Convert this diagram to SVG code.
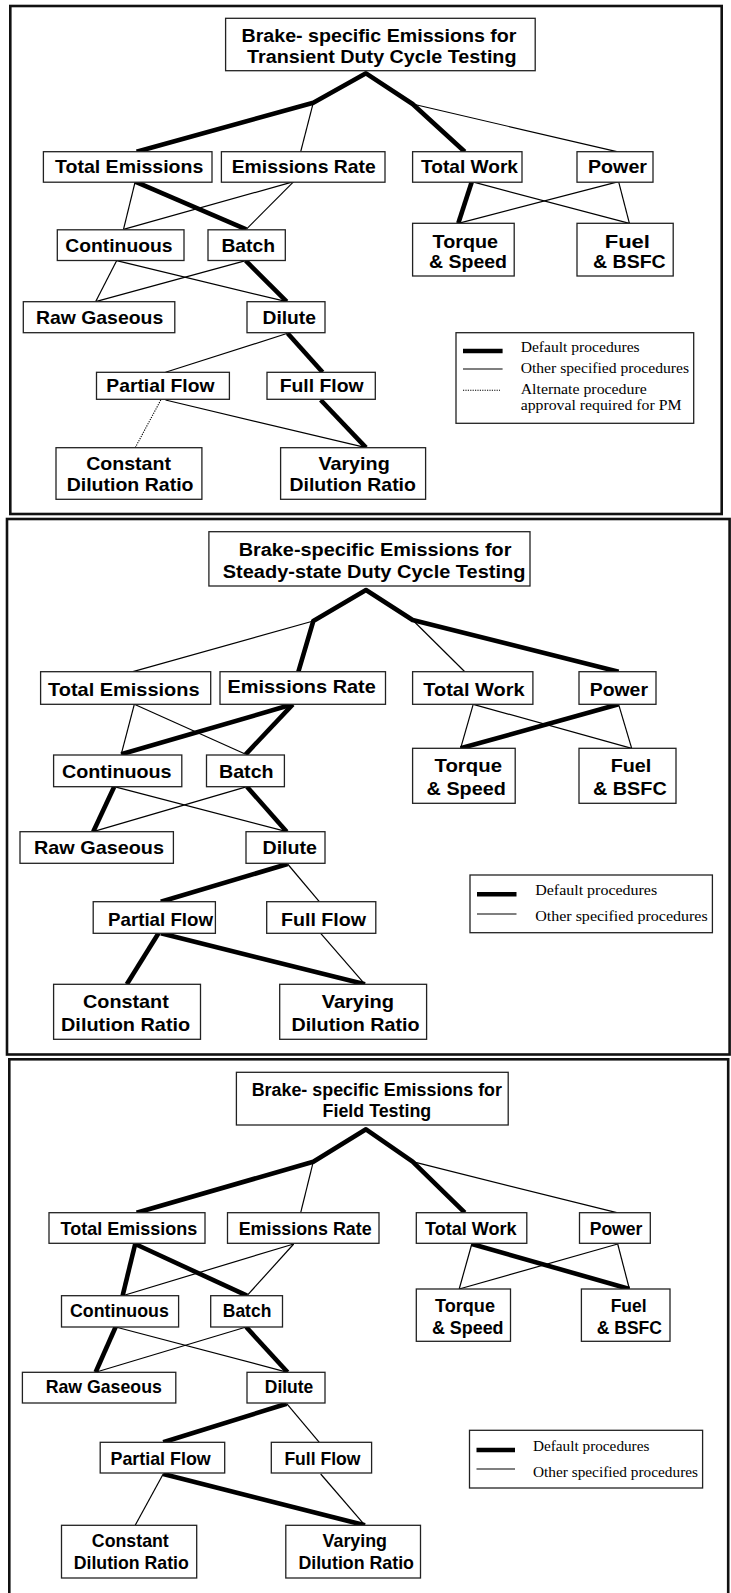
<svg xmlns="http://www.w3.org/2000/svg" width="731" height="1593" viewBox="0 0 731 1593">
<style>
.bg{fill:#fff}
.frame{fill:none;stroke:#111;stroke-width:2.6}
.box{fill:#fff;stroke:#222;stroke-width:1.3}
.t{font-family:"Liberation Sans",Arial,sans-serif;font-weight:bold;font-size:18.5px;fill:#000}
.tt{font-family:"Liberation Sans",Arial,sans-serif;font-weight:bold;font-size:17.5px;fill:#000}
.leg{font-family:"Liberation Serif","Times New Roman",serif;font-size:15px;fill:#000}
.thick{fill:none;stroke:#000;stroke-width:4.6;stroke-linejoin:round;stroke-linecap:butt}
.thin{fill:none;stroke:#000;stroke-width:1.2}
.dot{fill:none;stroke:#000;stroke-width:1.1;stroke-dasharray:1.2 1.2}
</style>
<rect class="bg" x="0" y="0" width="731" height="1593"/>

<!-- ================= PANEL 1 ================= -->
<g id="panel1">
<rect class="frame" x="10.3" y="6" width="711.4" height="508"/>
<g id="p1-connectors">
<polyline class="thick" points="136.6,151.7 313.3,102.7 366,73.3 412.6,104 464.8,151.7"/>
<line class="thin" x1="313.3" y1="102.7" x2="300.7" y2="151.7"/>
<line class="thin" x1="412.6" y1="104" x2="616.8" y2="151.7"/>
<line class="thin" x1="135.2" y1="181.7" x2="123.5" y2="229.3"/>
<line class="thick" x1="135.2" y1="181.7" x2="246.2" y2="229.3"/>
<line class="thin" x1="293.7" y1="181.7" x2="123.5" y2="229.3"/>
<line class="thin" x1="293.7" y1="181.7" x2="246.2" y2="229.3"/>
<line class="thick" x1="471.8" y1="181.7" x2="458.3" y2="223.3"/>
<line class="thin" x1="471.8" y1="181.7" x2="629.4" y2="223.3"/>
<line class="thin" x1="618.6" y1="181.7" x2="458.3" y2="223.3"/>
<line class="thin" x1="618.6" y1="181.7" x2="629.4" y2="223.3"/>
<line class="thin" x1="116.6" y1="260.7" x2="95.6" y2="301.7"/>
<line class="thin" x1="116.6" y1="260.7" x2="286.7" y2="301.7"/>
<line class="thin" x1="245.7" y1="260.7" x2="95.6" y2="301.7"/>
<line class="thick" x1="245.7" y1="260.7" x2="286.7" y2="301.7"/>
<line class="thin" x1="287.6" y1="333.3" x2="165.5" y2="372.3"/>
<line class="thick" x1="287.6" y1="333.3" x2="322.6" y2="372.3"/>
<line class="dot" x1="160.8" y1="400" x2="135.2" y2="447.7"/>
<line class="thin" x1="165.5" y1="400" x2="366" y2="447.7"/>
<line class="thick" x1="320.7" y1="400" x2="366" y2="447.7"/>
</g>
<g id="p1-title"><rect class="box" x="225.6" y="18.3" width="309.6" height="52.4"/>
<text class="tt" x="241.5" y="41.7" textLength="275" lengthAdjust="spacingAndGlyphs">Brake- specific Emissions for</text>
<text class="tt" x="247" y="62.7" textLength="269.5" lengthAdjust="spacingAndGlyphs">Transient Duty Cycle Testing</text></g>
<g id="p1-total-emissions"><rect class="box" x="43.4" y="151.7" width="168.6" height="30.5"/>
<text class="t" x="55" y="172.6" textLength="148.3" lengthAdjust="spacingAndGlyphs">Total Emissions</text></g>
<g id="p1-emissions-rate"><rect class="box" x="221.4" y="151.7" width="163.6" height="30.5"/>
<text class="t" x="231.7" y="172.6" textLength="144" lengthAdjust="spacingAndGlyphs">Emissions Rate</text></g>
<g id="p1-total-work"><rect class="box" x="412.6" y="151.7" width="109.4" height="30.5"/>
<text class="t" x="421" y="173" textLength="97" lengthAdjust="spacingAndGlyphs">Total Work</text></g>
<g id="p1-power"><rect class="box" x="577" y="151.7" width="76" height="30.5"/>
<text class="t" x="588" y="173" textLength="59" lengthAdjust="spacingAndGlyphs">Power</text></g>
<g id="p1-continuous"><rect class="box" x="57.3" y="229.8" width="126.7" height="30.7"/>
<text class="t" x="65.3" y="251.6" textLength="107.2" lengthAdjust="spacingAndGlyphs">Continuous</text></g>
<g id="p1-batch"><rect class="box" x="208" y="229.8" width="77.3" height="30.7"/>
<text class="t" x="221.4" y="251.6" textLength="53.6" lengthAdjust="spacingAndGlyphs">Batch</text></g>
<g id="p1-torque"><rect class="box" x="412.6" y="223.3" width="101.6" height="52.7"/>
<text class="t" x="432.6" y="248.3" textLength="65.4" lengthAdjust="spacingAndGlyphs">Torque</text>
<text class="t" x="429" y="268.3" textLength="78" lengthAdjust="spacingAndGlyphs">&amp; Speed</text></g>
<g id="p1-fuel"><rect class="box" x="577" y="223.3" width="96.2" height="52.7"/>
<text class="t" x="604.7" y="248.3" textLength="45.3" lengthAdjust="spacingAndGlyphs">Fuel</text>
<text class="t" x="593" y="268.3" textLength="72.7" lengthAdjust="spacingAndGlyphs">&amp; BSFC</text></g>
<g id="p1-raw-gaseous"><rect class="box" x="23.3" y="301.7" width="151.5" height="31"/>
<text class="t" x="35.9" y="323.7" textLength="127.3" lengthAdjust="spacingAndGlyphs">Raw Gaseous</text></g>
<g id="p1-dilute"><rect class="box" x="247" y="301.7" width="78" height="31"/>
<text class="t" x="262.5" y="323.7" textLength="53.5" lengthAdjust="spacingAndGlyphs">Dilute</text></g>
<g id="p1-partial-flow"><rect class="box" x="96.5" y="372.3" width="132.9" height="27"/>
<text class="t" x="106.3" y="392.3" textLength="108.2" lengthAdjust="spacingAndGlyphs">Partial Flow</text></g>
<g id="p1-full-flow"><rect class="box" x="267" y="372.3" width="108.3" height="27"/>
<text class="t" x="279.7" y="392.3" textLength="83.9" lengthAdjust="spacingAndGlyphs">Full Flow</text></g>
<g id="p1-constant"><rect class="box" x="56" y="447.7" width="145.9" height="51.6"/>
<text class="t" x="86.2" y="470" textLength="84.8" lengthAdjust="spacingAndGlyphs">Constant</text>
<text class="t" x="66.7" y="490.7" textLength="126.8" lengthAdjust="spacingAndGlyphs">Dilution Ratio</text></g>
<g id="p1-varying"><rect class="box" x="280.6" y="447.7" width="145" height="51.6"/>
<text class="t" x="318.4" y="470" textLength="71.3" lengthAdjust="spacingAndGlyphs">Varying</text>
<text class="t" x="289.5" y="490.7" textLength="126.4" lengthAdjust="spacingAndGlyphs">Dilution Ratio</text></g>
<g id="p1-legend"><rect class="box" x="456" y="332.7" width="237.7" height="90.6"/>
<line class="thick" x1="463" y1="351" x2="502.6" y2="351"/>
<line class="thin" x1="463" y1="369" x2="502.6" y2="369"/>
<line class="dot" x1="463" y1="390.3" x2="500" y2="390.3"/>
<text class="leg" x="520.7" y="352" textLength="119" lengthAdjust="spacingAndGlyphs">Default procedures</text>
<text class="leg" x="520.7" y="373" textLength="168.3" lengthAdjust="spacingAndGlyphs">Other specified procedures</text>
<text class="leg" x="520.7" y="393.5" textLength="126" lengthAdjust="spacingAndGlyphs">Alternate procedure</text>
<text class="leg" x="520.7" y="410" textLength="160.8" lengthAdjust="spacingAndGlyphs">approval required for PM</text></g>
</g>

<!-- ================= PANEL 2 ================= -->
<g id="panel2">
<rect class="frame" x="7" y="519" width="722.6" height="535.5"/>
<g id="p2-connectors">
<polyline class="thick" points="298.4,671.7 313.3,621 366,590 412.6,620 618.6,671.7"/>
<line class="thin" x1="313.3" y1="621" x2="132.9" y2="671.7"/>
<line class="thin" x1="412.6" y1="620" x2="464.8" y2="671.7"/>
<line class="thin" x1="134.3" y1="704.3" x2="121.2" y2="754.3"/>
<line class="thin" x1="134.3" y1="704.3" x2="245.7" y2="754.3"/>
<line class="thick" x1="292.8" y1="704.3" x2="121.2" y2="754.3"/>
<line class="thick" x1="292.8" y1="704.3" x2="245.7" y2="754.3"/>
<line class="thin" x1="473.2" y1="704.3" x2="460.6" y2="748.3"/>
<line class="thin" x1="473.2" y1="704.3" x2="631.7" y2="748.3"/>
<line class="thick" x1="618.6" y1="704.3" x2="460.6" y2="748.3"/>
<line class="thin" x1="618.6" y1="704.3" x2="631.7" y2="748.3"/>
<line class="thick" x1="114.2" y1="786.7" x2="93.2" y2="831.7"/>
<line class="thin" x1="114.2" y1="786.7" x2="286.7" y2="831.7"/>
<line class="thin" x1="247" y1="786.7" x2="93.2" y2="831.7"/>
<line class="thick" x1="247" y1="786.7" x2="286.7" y2="831.7"/>
<line class="thick" x1="287.6" y1="864" x2="160.8" y2="901.7"/>
<line class="thin" x1="287.6" y1="864" x2="319.3" y2="901.7"/>
<line class="thick" x1="158.5" y1="933.3" x2="126.8" y2="984.3"/>
<line class="thick" x1="160.8" y1="933.3" x2="365" y2="984.3"/>
<line class="thin" x1="320.7" y1="933.3" x2="365" y2="984.3"/>
</g>
<g id="p2-title"><rect class="box" x="208.9" y="531.7" width="321.1" height="54.3"/>
<text class="tt" x="238.7" y="555.7" textLength="272.7" lengthAdjust="spacingAndGlyphs">Brake-specific Emissions for</text>
<text class="tt" x="222.8" y="577.7" textLength="302.6" lengthAdjust="spacingAndGlyphs">Steady-state Duty Cycle Testing</text></g>
<g id="p2-total-emissions"><rect class="box" x="40.6" y="671.7" width="170.1" height="32.6"/>
<text class="t" x="48" y="696" textLength="151.5" lengthAdjust="spacingAndGlyphs">Total Emissions</text></g>
<g id="p2-emissions-rate"><rect class="box" x="220" y="671.7" width="165.5" height="32.6"/>
<text class="t" x="227.5" y="692.7" textLength="148.3" lengthAdjust="spacingAndGlyphs">Emissions Rate</text></g>
<g id="p2-total-work"><rect class="box" x="412.6" y="671.7" width="120.3" height="32.6"/>
<text class="t" x="423.3" y="696" textLength="101.2" lengthAdjust="spacingAndGlyphs">Total Work</text></g>
<g id="p2-power"><rect class="box" x="579" y="671.7" width="77" height="32.6"/>
<text class="t" x="589.7" y="696" textLength="58.3" lengthAdjust="spacingAndGlyphs">Power</text></g>
<g id="p2-continuous"><rect class="box" x="53.6" y="755" width="128.2" height="31.7"/>
<text class="t" x="62" y="777.7" textLength="109.6" lengthAdjust="spacingAndGlyphs">Continuous</text></g>
<g id="p2-batch"><rect class="box" x="206.5" y="755" width="77.9" height="31.7"/>
<text class="t" x="219" y="777.7" textLength="54.6" lengthAdjust="spacingAndGlyphs">Batch</text></g>
<g id="p2-torque"><rect class="box" x="412.6" y="748.3" width="102.6" height="55"/>
<text class="t" x="434.5" y="771.7" textLength="67.5" lengthAdjust="spacingAndGlyphs">Torque</text>
<text class="t" x="426.6" y="795" textLength="79.2" lengthAdjust="spacingAndGlyphs">&amp; Speed</text></g>
<g id="p2-fuel"><rect class="box" x="579" y="748.3" width="97" height="55"/>
<text class="t" x="610.7" y="771.7" textLength="40.6" lengthAdjust="spacingAndGlyphs">Fuel</text>
<text class="t" x="593" y="795" textLength="73.7" lengthAdjust="spacingAndGlyphs">&amp; BSFC</text></g>
<g id="p2-raw-gaseous"><rect class="box" x="20" y="831.7" width="153.4" height="31.6"/>
<text class="t" x="34" y="854" textLength="130" lengthAdjust="spacingAndGlyphs">Raw Gaseous</text></g>
<g id="p2-dilute"><rect class="box" x="246" y="831.7" width="79" height="31.6"/>
<text class="t" x="262.5" y="854" textLength="54.5" lengthAdjust="spacingAndGlyphs">Dilute</text></g>
<g id="p2-partial-flow"><rect class="box" x="93.2" y="901.7" width="122.2" height="31.6"/>
<text class="t" x="108" y="925.7" textLength="105" lengthAdjust="spacingAndGlyphs">Partial Flow</text></g>
<g id="p2-full-flow"><rect class="box" x="266.7" y="901.7" width="109.1" height="31.6"/>
<text class="t" x="281" y="925.7" textLength="85" lengthAdjust="spacingAndGlyphs">Full Flow</text></g>
<g id="p2-constant"><rect class="box" x="53.6" y="984.3" width="146.9" height="55"/>
<text class="t" x="83" y="1008.3" textLength="85.8" lengthAdjust="spacingAndGlyphs">Constant</text>
<text class="t" x="61" y="1030.7" textLength="129.2" lengthAdjust="spacingAndGlyphs">Dilution Ratio</text></g>
<g id="p2-varying"><rect class="box" x="279.7" y="984.3" width="146.9" height="55"/>
<text class="t" x="321.7" y="1008.3" textLength="72.3" lengthAdjust="spacingAndGlyphs">Varying</text>
<text class="t" x="291.4" y="1030.7" textLength="128.2" lengthAdjust="spacingAndGlyphs">Dilution Ratio</text></g>
<g id="p2-legend"><rect class="box" x="470" y="875" width="242.4" height="57.7"/>
<line class="thick" x1="477" y1="894.3" x2="516.5" y2="894.3"/>
<line class="thin" x1="477" y1="914" x2="516.5" y2="914"/>
<text class="leg" x="535.2" y="895" textLength="122" lengthAdjust="spacingAndGlyphs">Default procedures</text>
<text class="leg" x="535.2" y="921" textLength="172.5" lengthAdjust="spacingAndGlyphs">Other specified procedures</text></g>
</g>

<!-- ================= PANEL 3 ================= -->
<g id="panel3">
<rect class="frame" x="9.3" y="1059.3" width="718.9" height="545"/>
<g id="p3-connectors">
<polyline class="thick" points="136.6,1212.7 313.3,1161.7 366,1129.3 412.6,1161.7 464.8,1212.7"/>
<line class="thin" x1="313.3" y1="1161.7" x2="300.7" y2="1212.7"/>
<line class="thin" x1="412.6" y1="1161.7" x2="616.8" y2="1212.7"/>
<line class="thick" x1="135.2" y1="1244" x2="122.6" y2="1295.7"/>
<line class="thick" x1="135.2" y1="1244" x2="247" y2="1295.7"/>
<line class="thin" x1="293.7" y1="1244" x2="122.6" y2="1295.7"/>
<line class="thin" x1="293.7" y1="1244" x2="247" y2="1295.7"/>
<line class="thin" x1="471.8" y1="1244" x2="459.2" y2="1289"/>
<line class="thick" x1="471.8" y1="1244" x2="629.4" y2="1289"/>
<line class="thin" x1="617.7" y1="1244" x2="459.2" y2="1289"/>
<line class="thin" x1="617.7" y1="1244" x2="629.4" y2="1289"/>
<line class="thick" x1="115.6" y1="1327" x2="95.6" y2="1372.3"/>
<line class="thin" x1="115.6" y1="1327" x2="287.6" y2="1372.3"/>
<line class="thin" x1="246.2" y1="1327" x2="95.6" y2="1372.3"/>
<line class="thick" x1="246.2" y1="1327" x2="287.6" y2="1372.3"/>
<line class="thick" x1="286.7" y1="1403.7" x2="163.2" y2="1442.3"/>
<line class="thin" x1="286.7" y1="1403.7" x2="319.3" y2="1442.3"/>
<line class="thin" x1="163.2" y1="1474" x2="135.2" y2="1525.3"/>
<line class="thick" x1="163.2" y1="1474" x2="365" y2="1525.3"/>
<line class="thin" x1="320.7" y1="1474" x2="365" y2="1525.3"/>
</g>
<g id="p3-title"><rect class="box" x="236.4" y="1072.3" width="271.8" height="52.7"/>
<text class="tt" x="251.7" y="1096" textLength="250.3" lengthAdjust="spacingAndGlyphs">Brake- specific Emissions for</text>
<text class="tt" x="322.6" y="1117.3" textLength="108.6" lengthAdjust="spacingAndGlyphs">Field Testing</text></g>
<g id="p3-total-emissions"><rect class="box" x="49" y="1212.7" width="156" height="30.6"/>
<text class="t" x="60.6" y="1235" textLength="136.6" lengthAdjust="spacingAndGlyphs">Total Emissions</text></g>
<g id="p3-emissions-rate"><rect class="box" x="227.5" y="1212.7" width="151.5" height="30.6"/>
<text class="t" x="238.7" y="1235" textLength="132.9" lengthAdjust="spacingAndGlyphs">Emissions Rate</text></g>
<g id="p3-total-work"><rect class="box" x="416.3" y="1212.7" width="110.5" height="30.6"/>
<text class="t" x="425" y="1235" textLength="91.6" lengthAdjust="spacingAndGlyphs">Total Work</text></g>
<g id="p3-power"><rect class="box" x="579.5" y="1212.7" width="70.8" height="30.6"/>
<text class="t" x="589.7" y="1235" textLength="52.7" lengthAdjust="spacingAndGlyphs">Power</text></g>
<g id="p3-continuous"><rect class="box" x="61.5" y="1295.7" width="117.1" height="31.3"/>
<text class="t" x="70" y="1317.3" textLength="98.8" lengthAdjust="spacingAndGlyphs">Continuous</text></g>
<g id="p3-batch"><rect class="box" x="210.7" y="1295.7" width="71.8" height="31.3"/>
<text class="t" x="222.8" y="1317.3" textLength="48.5" lengthAdjust="spacingAndGlyphs">Batch</text></g>
<g id="p3-torque"><rect class="box" x="416.3" y="1289" width="94.2" height="52.3"/>
<text class="t" x="435" y="1311.7" textLength="60" lengthAdjust="spacingAndGlyphs">Torque</text>
<text class="t" x="432" y="1333.7" textLength="71.5" lengthAdjust="spacingAndGlyphs">&amp; Speed</text></g>
<g id="p3-fuel"><rect class="box" x="581.4" y="1289" width="88.6" height="52.3"/>
<text class="t" x="610.7" y="1311.7" textLength="35.9" lengthAdjust="spacingAndGlyphs">Fuel</text>
<text class="t" x="596.7" y="1333.7" textLength="65.3" lengthAdjust="spacingAndGlyphs">&amp; BSFC</text></g>
<g id="p3-raw-gaseous"><rect class="box" x="22.4" y="1372.3" width="153.4" height="30.7"/>
<text class="t" x="45.7" y="1393" textLength="116.1" lengthAdjust="spacingAndGlyphs">Raw Gaseous</text></g>
<g id="p3-dilute"><rect class="box" x="247" y="1372.3" width="78" height="30.7"/>
<text class="t" x="264.8" y="1393" textLength="48.5" lengthAdjust="spacingAndGlyphs">Dilute</text></g>
<g id="p3-partial-flow"><rect class="box" x="100.2" y="1442.3" width="124.5" height="30.7"/>
<text class="t" x="110.5" y="1464.7" textLength="100.2" lengthAdjust="spacingAndGlyphs">Partial Flow</text></g>
<g id="p3-full-flow"><rect class="box" x="271.3" y="1442.3" width="100.3" height="30.7"/>
<text class="t" x="284.4" y="1464.7" textLength="76" lengthAdjust="spacingAndGlyphs">Full Flow</text></g>
<g id="p3-constant"><rect class="box" x="61.5" y="1525.3" width="135.2" height="52.7"/>
<text class="t" x="91.8" y="1547.3" textLength="77" lengthAdjust="spacingAndGlyphs">Constant</text>
<text class="t" x="73.7" y="1568.7" textLength="115.1" lengthAdjust="spacingAndGlyphs">Dilution Ratio</text></g>
<g id="p3-varying"><rect class="box" x="285.8" y="1525.3" width="134.7" height="52.7"/>
<text class="t" x="322.6" y="1547.3" textLength="64.4" lengthAdjust="spacingAndGlyphs">Varying</text>
<text class="t" x="298.4" y="1568.7" textLength="115.6" lengthAdjust="spacingAndGlyphs">Dilution Ratio</text></g>
<g id="p3-legend"><rect class="box" x="469.5" y="1430.3" width="233.1" height="57.7"/>
<line class="thick" x1="476.5" y1="1450" x2="515" y2="1450"/>
<line class="thin" x1="476.5" y1="1469" x2="515" y2="1469"/>
<text class="leg" x="533" y="1451" textLength="116.4" lengthAdjust="spacingAndGlyphs">Default procedures</text>
<text class="leg" x="533" y="1477" textLength="165" lengthAdjust="spacingAndGlyphs">Other specified procedures</text></g>
</g>
</svg>
